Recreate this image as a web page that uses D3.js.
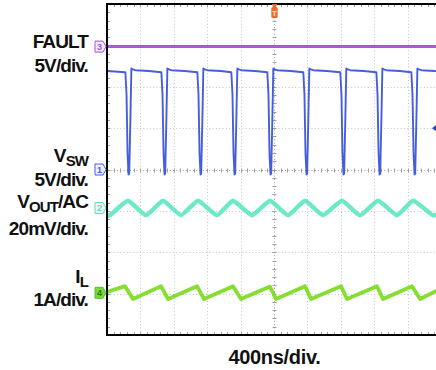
<!DOCTYPE html>
<html>
<head>
<meta charset="utf-8">
<script src="https://cdn.jsdelivr.net/npm/d3@7"></script>
<style>
  body { margin: 0; background: #fff; }
  svg text { font-family: "Liberation Sans", Arial, Helvetica, sans-serif; font-weight: bold; }
</style>
</head>
<body>
<svg id="scope" width="436" height="370"></svg>
<script>
// ---- data (time in ns, 400ns/div, 10 divs) ----
var timeDiv = 400;
var timeDivs = 10;

// VSW: switch node, 5V/div, fall edge times + one pulse shape (offset ns from fall, volts)
var vswFalls = [240, 671, 1102, 1509, 1940, 2371, 2814, 3246, 3665];
var vswPulse = [[-20, 11.75], [-6, 9], [6, 2], [18, -0.6], [26, -0.5], [40, 6], [52, 12.2], [70, 12.1], [100, 12.0], [260, 11.9]];
var vswStart = [0, 11.9];
var vswEnd = [4000, 11.85];

// FAULT: flat, 5V/div
var faultPoints = [[0, 0], [4000, 0]];

// VOUT ripple (mV, AC coupled, 20mV/div)
var voutPoints = [[0, -3.0], [36, -3.5], [251, 3.5], [467, -3.5], [671, 3.5], [886, -3.5], [1090, 3.5],
  [1317, -3.5], [1509, 3.5], [1737, -3.5], [1952, 3.5], [2168, -3.5], [2371, 3.5], [2587, -3.5],
  [2814, 3.5], [3030, -3.5], [3246, 3.5], [3473, -3.5], [3665, 3.5], [3904, -3.5], [4000, -2.0]];

// IL inductor current (A, 1A/div)
var ilPoints = [[0, 0.02], [216, 0.16], [311, -0.15], [647, 0.16], [731, -0.15], [1078, 0.16], [1162, -0.15],
  [1509, 0.16], [1605, -0.15], [1952, 0.15], [2024, -0.15], [2371, 0.16], [2443, -0.15], [2802, 0.16],
  [2874, -0.15], [3234, 0.16], [3305, -0.15], [3653, 0.16], [3749, -0.15], [4000, 0.1]];

// channels: name, scale per div, offset in divs, colour
var channels = [
  {id: "3", data: faultPoints, perDiv: 5, offset: 2.97, color: "#a050e6", width: 3, marker: "#a050e6", fill: "#f4ecfc", curve: d3.curveLinear},
  {id: "1", data: null, perDiv: 5, offset: 0, color: "#3b55dc", width: 1.9, marker: "#4a5fd8", fill: "#eef0fc", curve: d3.curveLinear},
  {id: "2", data: voutPoints, perDiv: 20, offset: -0.93, color: "#66e8c4", width: 4.4, marker: "#5fd9b8", fill: "#edfbf6", curve: d3.curveCardinal.tension(0.55)},
  {id: "4", data: ilPoints, perDiv: 1, offset: -2.98, color: "#80dc26", width: 3.8, marker: "#5cc02a", fill: "#7fd63a", curve: d3.curveLinear}
];

var labels = [
  {lines: [["FAULT"], ["5V/div."]], y: [48, 72]},
  {lines: [["V", "SW"], ["5V/div."]], y: [162, 186]},
  {lines: [["V", "OUT", "/AC"], ["20mV/div."]], y: [208, 235]},
  {lines: [["I", "L"], ["1A/div."]], y: [283, 306]}
];
var timeLabel = "400ns/div.";

// ---- build VSW from falls + pulse shape ----
var vswPoints = [vswStart];
vswFalls.forEach(function(tf){
  vswPulse.forEach(function(p){ vswPoints.push([tf + p[0], p[1]]); });
});
vswPoints.push(vswEnd);
channels[1].data = vswPoints;

// ---- layout ----
var svg = d3.select("#scope");
var pLeft = 107, pTop = 4, pBottom = 335;
var divPx = 33.4;
var x = d3.scaleLinear().domain([0, timeDiv * timeDivs]).range([pLeft, pLeft + divPx * timeDivs]);
var y = d3.scaleLinear().domain([-4, 4]).range([pBottom, pTop]);
var pRight = x(timeDiv * timeDivs);

var plot = svg.append("g");
plot.append("rect").attr("x", pLeft).attr("y", pTop).attr("width", pRight - pLeft).attr("height", pBottom - pTop).attr("fill", "#fff");

// grid dotted lines
var grid = plot.append("g").attr("stroke", "#c4c4c4").attr("stroke-width", 1).attr("stroke-dasharray", "1,2.3");
d3.range(1, timeDivs).forEach(function(i){
  if (i == 5) return;
  grid.append("line").attr("x1", Math.round(x(i * timeDiv)) + 0.5).attr("x2", Math.round(x(i * timeDiv)) + 0.5).attr("y1", pTop).attr("y2", pBottom);
});
d3.range(-3, 4).forEach(function(d){
  if (d == 0) return;
  grid.append("line").attr("x1", pLeft).attr("x2", pRight).attr("y1", Math.round(y(d)) + 0.5).attr("y2", Math.round(y(d)) + 0.5);
});

// centre lines with minor ticks
var cx = Math.round(x(timeDiv * timeDivs / 2)) + 0.5, cy = Math.round(y(0)) + 0.5;
var cl = plot.append("g").attr("stroke", "#a0a0a0").attr("stroke-width", 1);
cl.append("line").attr("x1", cx).attr("x2", cx).attr("y1", pTop).attr("y2", pBottom).attr("stroke-dasharray", "1,2.3");
cl.append("line").attr("x1", pLeft).attr("x2", pRight).attr("y1", cy).attr("y2", cy).attr("stroke-dasharray", "1,2.3");
d3.range(0, timeDivs * 5 + 1).forEach(function(i){
  var xx = Math.round(x(i * timeDiv / 5)) + 0.5;
  cl.append("line").attr("x1", xx).attr("x2", xx).attr("y1", cy - 2).attr("y2", cy + 2);
  cl.append("line").attr("x1", xx).attr("x2", xx).attr("y1", pTop).attr("y2", pTop + 3);
  cl.append("line").attr("x1", xx).attr("x2", xx).attr("y1", pBottom - 3).attr("y2", pBottom);
});
d3.range(0, 8 * 5 + 1).forEach(function(i){
  var yy = Math.round(y(-4 + i / 5)) + 0.5;
  cl.append("line").attr("x1", cx - 2).attr("x2", cx + 2).attr("y1", yy).attr("y2", yy);
  cl.append("line").attr("x1", pLeft).attr("x2", pLeft + 3).attr("y1", yy).attr("y2", yy);
});

// traces
var clipId = "clipPlot";
svg.append("clipPath").attr("id", clipId).append("rect").attr("x", pLeft).attr("y", pTop).attr("width", pRight - pLeft).attr("height", pBottom - pTop);
var traces = svg.append("g").attr("clip-path", "url(#" + clipId + ")");
channels.forEach(function(ch){
  var line = d3.line()
    .x(function(d){ return x(d[0]); })
    .y(function(d){ return y(d[1] / ch.perDiv + ch.offset); })
    .curve(ch.curve);
  traces.append("path").datum(ch.data)
    .attr("d", line)
    .attr("fill", "none")
    .attr("stroke", ch.color)
    .attr("stroke-width", ch.width)
    .attr("stroke-linejoin", "round")
    .attr("opacity", 0.95);
});

// border
svg.append("path")
  .attr("d", "M" + (pRight + 5) + "," + pTop + "H" + pLeft + "V" + pBottom + "H" + (pRight + 5))
  .attr("fill", "none").attr("stroke", "#000").attr("stroke-width", 2);

// channel markers on the left
channels.forEach(function(ch){
  var yy = y(ch.offset);
  var g = svg.append("g").attr("transform", "translate(95," + yy + ")");
  g.append("path").attr("d", "M0,-5.5H8L11,0L8,5.5H0Z")
    .attr("fill", ch.fill).attr("stroke", ch.marker).attr("stroke-width", 1);
  g.append("text").attr("x", 4.5).attr("y", 3.5).attr("text-anchor", "middle")
    .attr("font-size", 9).attr("font-weight", "normal")
    .attr("fill", ch.id == "4" ? "#2f7a10" : ch.marker).text(ch.id);
});

// trigger position marker at top
var tg = svg.append("g").attr("transform", "translate(" + cx + ",0)");
tg.append("path").attr("d", "M-2.5,4H2.5L1.5,7H-1.5Z").attr("fill", "#f06a2a");
tg.append("rect").attr("x", -3.2).attr("y", 7).attr("width", 6.4).attr("height", 11).attr("rx", 1.5).attr("fill", "#f06a2a");
tg.append("text").attr("x", 0).attr("y", 16).attr("text-anchor", "middle").attr("font-size", 8).attr("fill", "#fde0cc").text("T");

// trigger level marker on the right
svg.append("path").attr("d", "M432," + y(1) + "L437," + (y(1) - 4) + "V" + (y(1) + 4) + "Z").attr("fill", "#2a44cc");

// labels
labels.forEach(function(lb){
  lb.lines.forEach(function(parts, i){
    var t = svg.append("text").attr("x", 88).attr("y", lb.y[i]).attr("text-anchor", "end")
      .attr("font-size", 19).attr("letter-spacing", -0.9).attr("fill", "#111");
    parts.forEach(function(p, j){
      var sp = t.append("tspan").text(p);
      if (parts.length > 1 && j == 1) sp.attr("font-size", 15).attr("dy", 4);
      if (j == 2) sp.attr("dy", -4);
    });
  });
});
svg.append("text").attr("x", cx).attr("y", 364).attr("text-anchor", "middle")
  .attr("font-size", 20).attr("letter-spacing", -0.3).attr("fill", "#111").text(timeLabel);
</script>
</body>
</html>
